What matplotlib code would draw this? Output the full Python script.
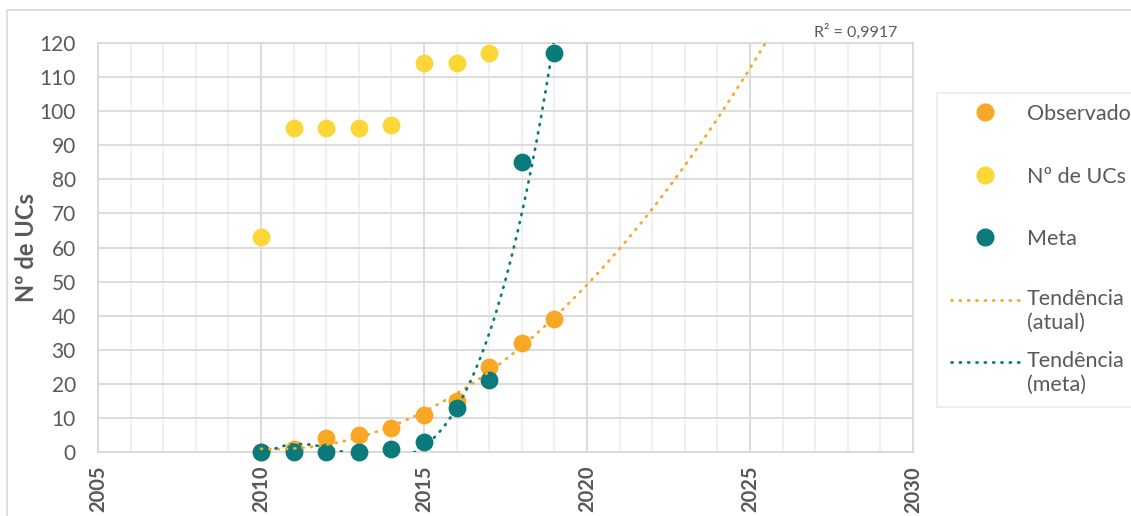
import numpy as np
import matplotlib.pyplot as plt
from matplotlib.lines import Line2D
from matplotlib.patches import Rectangle

plt.rcParams['font.family'] = ['Lato', 'DejaVu Sans']

# data
anos = [2010, 2011, 2012, 2013, 2014, 2015, 2016, 2017, 2018, 2019]
observado = [0, 1, 4, 5, 7, 11, 15, 25, 32, 39]
anos_ucs = [2010, 2011, 2012, 2013, 2014, 2015, 2016, 2017]
n_ucs = [63, 95, 95, 95, 96, 114, 114, 117]
meta = [0, 0, 0, 0, 1, 3, 13, 21, 85, 117]

cor_obs = '#F9A825'
cor_ucs = '#FDD737'
cor_meta = '#0B7A7A'
cinza = '#595959'

W, H = 1131, 516
def fx(px):
    return px / W
def fy(py):
    return 1 - py / H

fig = plt.figure(figsize=(11.31, 5.16), dpi=100)
ax = fig.add_axes([fx(98), fy(452), (913 - 98) / W, (452 - 43) / H])

# outer chart border
fig.patches.append(Rectangle((fx(7), -0.1), 1.2, fy(10) + 0.1, transform=fig.transFigure,
                             fill=False, edgecolor='#D9D9D9', linewidth=1.2))

ax.scatter(anos, observado, s=140, color=cor_obs, zorder=3, clip_on=False)
ax.scatter(anos_ucs, n_ucs, s=140, color=cor_ucs, zorder=3, clip_on=False)
ax.scatter(anos, meta, s=140, color=cor_meta, zorder=4, clip_on=False)

# trend lines (polynomial, like excel)
x = np.array(anos) - 2010
p_obs = np.polyfit(x, observado, 2)
p_meta = np.polyfit(x, meta, 4)
xt = np.linspace(0, 20, 600)
xm = np.linspace(0, 9.5, 400)
pontilhado = (0, (0.4, 2.6))
estilo = dict(linewidth=2.0, linestyle=pontilhado, dash_capstyle='round', zorder=5)
ax.plot(xt + 2010, np.polyval(p_obs, xt), color=cor_obs, **estilo)
ax.plot(xm + 2010, np.polyval(p_meta, xm), color=cor_meta, **estilo)

ax.set_xlim(2005, 2030)
ax.set_ylim(0, 120)
ax.set_xticks([2005, 2010, 2015, 2020, 2025, 2030])
ax.set_xticks(range(2005, 2031), minor=True)
ax.set_yticks(range(0, 121, 10))
ax.grid(True, which='major', color='#D9D9D9', linewidth=1.3)
ax.grid(True, which='minor', axis='x', color='#EFEFEF', linewidth=1.3)
ax.set_axisbelow(True)
for s in ax.spines.values():
    s.set_color('#D9D9D9')
    s.set_linewidth(1.3)
ax.tick_params(which='both', length=0)
ax.tick_params(axis='y', labelsize=15, labelcolor=cinza, pad=16)
ax.tick_params(axis='x', labelsize=14.5, labelcolor=cinza, pad=10)
for lbl in ax.get_xticklabels():
    lbl.set_rotation(90)
    lbl.set_fontweight('bold')
ax.set_ylabel('Nº de UCs', fontsize=17, fontweight='bold', color=cinza)
ax.yaxis.set_label_coords((38 - 98) / 815, 0.5)

ax.text((897 - 98) / 815, 1.008, 'R² = 0,9917', transform=ax.transAxes, ha='right',
        va='bottom', fontsize=11.5, color=cinza)

# legend, drawn by hand so the rows are evenly spaced like the original
fig.patches.append(Rectangle((fx(937), fy(407)), 0.5, fy(93) - fy(407), transform=fig.transFigure,
                             facecolor='white', edgecolor='#EBEBEB', linewidth=1.2))
itens = [
    ('o', cor_obs, 'Observado', 112),
    ('o', cor_ucs, 'Nº de UCs', 175),
    ('o', cor_meta, 'Meta', 237),
    ('-', cor_obs, 'Tendência\n(atual)', 300),
    ('-', cor_meta, 'Tendência\n(meta)', 362),
]
for tipo, cor, texto, ypx in itens:
    if tipo == 'o':
        fig.add_artist(Line2D([fx(985)], [fy(ypx)], marker='o', markersize=12, color=cor,
                              linestyle='none', transform=fig.transFigure))
        fig.text(fx(1027), fy(ypx), texto, fontsize=15.5, color=cinza, va='center_baseline')
    else:
        fig.add_artist(Line2D([fx(951), fx(1020)], [fy(ypx), fy(ypx)], color=cor, linewidth=2.0,
                              linestyle=pontilhado, dash_capstyle='round',
                              transform=fig.transFigure))
        fig.text(fx(1027), fy(ypx) + 0.022, texto, fontsize=15.5, color=cinza, va='top',
                 linespacing=1.25)

fig.savefig('out.png', dpi=100)
